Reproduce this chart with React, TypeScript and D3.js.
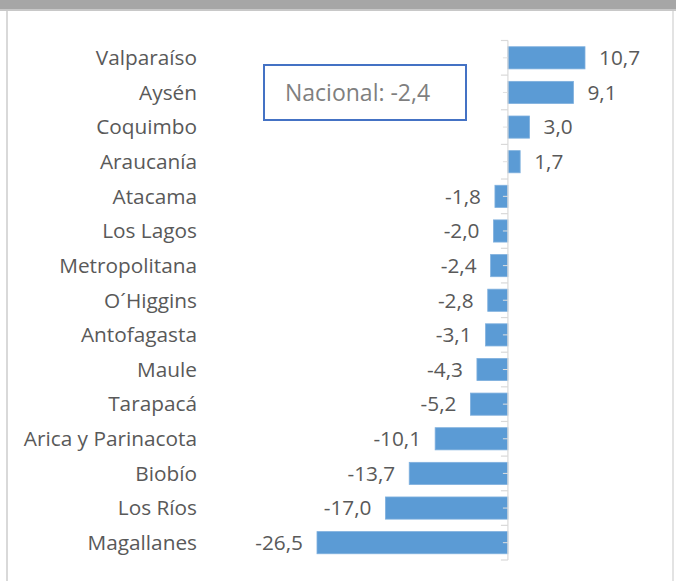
import * as d3 from "d3";
import React from "react";

const regions = [
  "Valparaíso", "Aysén", "Coquimbo", "Araucanía", "Atacama", "Los Lagos",
  "Metropolitana", "O´Higgins", "Antofagasta", "Maule", "Tarapacá",
  "Arica y Parinacota", "Biobío", "Los Ríos", "Magallanes",
]
const values = [10.7, 9.1, 3.0, 1.7, -1.8, -2.0, -2.4, -2.8, -3.1, -4.3, -5.2, -10.1, -13.7, -17.0, -26.5]
const nationalLabel = "Nacional: -2,4"

const W = 676
const H = 581
const font = "'Open Sans', sans-serif"
const textColor = "#595959"
const fmt = (v: number) => v.toFixed(1).replace(".", ",")

export function App() {
  const y = d3.scaleBand<string>().domain(regions).range([40.5, 560]).paddingInner(0.36).paddingOuter(0.18)
  const x = d3.scaleLinear().domain([-26.5, 10.7]).range([317, 585])
  const x0 = x(0)
  const step = y.step()
  const bounds = d3.range(regions.length + 1).map(i => 40.5 + i * step)

  return (
    <svg width={W} height={H} style={{ position: "absolute", left: 0, top: 0, display: "block", background: "#fff" }}>
      <rect x={0} y={0} width={W} height={10} fill="#a6a6a6" />
      <rect x={0} y={9} width={W} height={2} fill="#c8c8c8" />
      <line x1={7} x2={7} y1={11} y2={H} stroke="#d9d9d9" strokeWidth={2} />
      <line x1={673} x2={673} y1={11} y2={H} stroke="#e3e3e3" strokeWidth={2} />

      {regions.map((r, i) => {
        const v = values[i]
        const by = y(r)!
        const cy = by + y.bandwidth() / 2
        return (
          <g key={r}>
            <rect x={Math.min(x(v), x0)} y={by} width={Math.abs(x(v) - x0)} height={y.bandwidth()}
              fill="#5b9bd5" stroke="#7fb0de" strokeWidth={0.8} />
            <text x={v >= 0 ? x(v) + 14 : x(v) - 14} y={cy} dy="0.35em"
              textAnchor={v >= 0 ? "start" : "end"} fontFamily={font} fontSize={20.8} fill={textColor}>
              {fmt(v)}
            </text>
            <text x={197} y={cy} dy="0.35em" textAnchor="end" fontFamily={font} fontSize={20.8} fill={textColor}>
              {r}
            </text>
            <line x1={x0 - 5} x2={x0} y1={cy} y2={cy} stroke="#e0e0e0" strokeWidth={1} />
          </g>
        )
      })}

      <line x1={x0} x2={x0} y1={bounds[0]} y2={bounds[bounds.length - 1]} stroke="#d9d9d9" strokeWidth={1.2} />
      {bounds.map((b, i) => (
        <line key={i} x1={x0 - 7} x2={x0} y1={b} y2={b} stroke="#d9d9d9" strokeWidth={1.2} />
      ))}

      <rect x={264} y={65} width={202} height={55} fill="#fff" stroke="#4472c4" strokeWidth={2} />
      <text x={285} y={93} dy="0.35em" fontFamily={font} fontSize={23} fill="#7f7f7f">{nationalLabel}</text>
    </svg>
  )
}

export default App;
